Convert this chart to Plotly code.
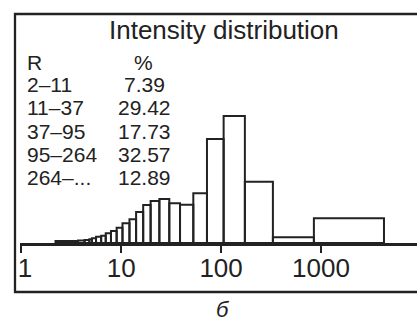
import plotly.graph_objects as go

# ---- data ----
bin_edges = [2.2, 3.7, 4.3, 4.8, 5.1, 5.6, 6.3, 7.0, 7.9, 9.0, 10.3, 12.1, 14.1,
             16.6, 19.7, 24.1, 30.3, 38.8, 52.7, 72.2, 106, 173, 330, 849, 4270]
bin_heights = [2, 2.5, 3, 3.7, 4.7, 6.3, 7.3, 9.7, 12, 15.3, 19.7, 23.7, 31, 38,
               42, 44, 39.7, 38.3, 49.7, 104, 127, 61.3, 5.7, 24.7]
range_labels = ["2–11", "11–37", "37–95", "95–264", "264–..."]
range_percents = ["7.39", "29.42", "17.73", "32.57", "12.89"]
tick_values = [1, 10, 100, 1000]
tick_labels = ["\u00a01", "10", "100", "1000"]

FONT = "Liberation Sans, Arial, sans-serif"
INK = "#222222"

# build bar outlines from the bin arrays
xs, ys = [], []
for i, h in enumerate(bin_heights):
    l, r = bin_edges[i], bin_edges[i + 1]
    xs += [l, l, r, r, l, None]
    ys += [0, h, h, 0, 0, None]

fig = go.Figure()
fig.add_trace(go.Scatter(x=xs, y=ys, mode="lines", fill="toself",
                         fillcolor="white", line=dict(color=INK, width=2),
                         hoverinfo="skip", showlegend=False))

W, H = 417, 321
ml, mr, mt, mb = 20, 0, 14, 78
pw, ph = W - ml - mr, H - mt - mb


def px(x):
    return (x - ml) / pw


def py(y):
    return (H - mb - y) / ph


fig.update_layout(
    width=W, height=H,
    margin=dict(l=ml, r=mr, t=mt, b=mb, pad=0),
    paper_bgcolor="white", plot_bgcolor="white",
    xaxis=dict(type="log", range=[-0.013, 3.961], tickvals=tick_values,
               ticktext=tick_labels, ticks="outside", ticklen=7, tickwidth=2,
               tickcolor=INK, showline=True, linewidth=3, linecolor=INK,
               showgrid=False, zeroline=False, ticklabelstandoff=-7,
               tickfont=dict(family=FONT, size=26, color=INK)),
    yaxis=dict(visible=False, range=[0, 229]),
    font=dict(family=FONT, color=INK),
    hovermode=False,
)

# frame
fig.add_shape(type="rect", xref="paper", yref="paper",
              x0=px(15), x1=px(430), y0=py(292), y1=py(14),
              line=dict(color=INK, width=2.3), layer="above")

# title
fig.add_annotation(text="Intensity distribution", xref="paper", yref="paper",
                   x=px(224), y=py(30), xanchor="center", yanchor="middle",
                   showarrow=False, font=dict(family=FONT, size=26, color=INK))

# table
TS = 21
row_y = [85, 108, 131, 154, 177]
fig.add_annotation(text="R", xref="paper", yref="paper", x=px(25), y=py(62),
                   xanchor="left", yanchor="middle", showarrow=False,
                   font=dict(family=FONT, size=TS, color=INK))
fig.add_annotation(text="%", xref="paper", yref="paper", x=px(143), y=py(62),
                   xanchor="center", yanchor="middle", showarrow=False,
                   font=dict(family=FONT, size=TS, color=INK))
for lab, pct, yy in zip(range_labels, range_percents, row_y):
    fig.add_annotation(text=lab, xref="paper", yref="paper", x=px(25), y=py(yy),
                       xanchor="left", yanchor="middle", showarrow=False,
                       font=dict(family=FONT, size=TS, color=INK))
    fig.add_annotation(text=pct, xref="paper", yref="paper", x=px(144), y=py(yy),
                       xanchor="center", yanchor="middle", showarrow=False,
                       font=dict(family=FONT, size=TS, color=INK))

# caption
fig.add_annotation(text="<i>б</i>", xref="paper", yref="paper", x=px(223),
                   y=py(309), xanchor="center", yanchor="middle",
                   showarrow=False, font=dict(family=FONT, size=22, color=INK))

fig.write_html("out.html", post_script="document.body.style.margin='0';",
               config={"displayModeBar": False})
